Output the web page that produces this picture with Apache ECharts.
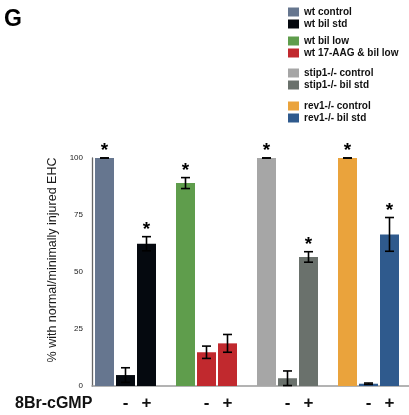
<!DOCTYPE html>
<html>
<head>
<meta charset="utf-8">
<script src="https://cdn.jsdelivr.net/npm/echarts@6/dist/echarts.min.js"></script>
<style>html,body{margin:0;padding:0;background:#fff}#c{width:409px;height:415px}</style>
</head>
<body>
<div id="c"></div>
<script>
// ---- data ----
const categories = ['wt', 'wt bil low', 'stip1-/-', 'rev1-/-'];
const controlValues = [100, 89, 100, 100];
const controlErrors = [0, 2.4, 0, 0];
const controlStars = [true, true, true, true];
const minusValues = [4.8, 14.8, 3.4, 1.0];
const minusErrors = [3.2, 2.7, 3.2, 0.3];
const minusStars = [false, false, false, false];
const plusValues = [62.4, 18.7, 56.6, 66.5];
const plusErrors = [3.1, 3.9, 2.3, 7.4];
const plusStars = [true, false, true, true];
const yTicks = [0, 25, 50, 75, 100];
const legendGroups = [
  ['wt control', 'wt bil std'],
  ['wt bil low', 'wt 17-AAG & bil low'],
  ['stip1-/- control', 'stip1-/- bil std'],
  ['rev1-/- control', 'rev1-/- bil std']
];
const legendColors = {
  'wt control': '#66768f',
  'wt bil std': '#05090f',
  'wt bil low': '#5f9d4c',
  'wt 17-AAG & bil low': '#c1292e',
  'stip1-/- control': '#a6a6a6',
  'stip1-/- bil std': '#6a716c',
  'rev1-/- control': '#eaa33c',
  'rev1-/- bil std': '#2f5a8d'
};
const controlColors = ['#66768f', '#5f9d4c', '#a6a6a6', '#eaa33c'];
const treatedColors = ['#05090f', '#c1292e', '#6a716c', '#2f5a8d'];

// ---- layout / style ----
const FONT = 'Liberation Sans';
const BAR_W = 19, BAR_GAP = 2;
const legendTops = [7, 36, 68, 101];

const chart = echarts.init(document.getElementById('c'), null, {renderer: 'canvas'});

function barSeries(name, values, colors) {
  return {
    name: name, type: 'bar', xAxisIndex: 0, yAxisIndex: 0,
    barWidth: BAR_W, barGap: (BAR_GAP / BAR_W * 100) + '%',
    data: values.map((v, i) => ({value: v, itemStyle: {color: colors[i]}})),
    z: 2
  };
}

function errSeries(pos, values, errors, stars, sign) {
  return {
    type: 'custom', xAxisIndex: 0, yAxisIndex: 0, z: 5, silent: true,
    data: values.map((v, i) => [i, v]),
    encode: {x: 0, y: 1},
    renderItem: function (params, api) {
      const i = params.dataIndex;
      const dx = (pos - 1) * (BAR_W + BAR_GAP);
      const v = values[i], e = errors[i];
      const top = api.coord([i, v + e]);
      const bot = api.coord([i, Math.max(0, v - e)]);
      const base = api.coord([i, 0]);
      const x = top[0] + dx;
      const cap = 4.5;
      const lw = 1.6;
      const children = [
        {type: 'line', shape: {x1: x, y1: top[1], x2: x, y2: bot[1]}, style: {stroke: '#000', lineWidth: lw}},
        {type: 'line', shape: {x1: x - cap, y1: top[1], x2: x + cap, y2: top[1]}, style: {stroke: '#000', lineWidth: lw}},
        {type: 'line', shape: {x1: x - cap, y1: bot[1], x2: x + cap, y2: bot[1]}, style: {stroke: '#000', lineWidth: lw}}
      ];
      if (stars[i]) {
        children.push({type: 'text', x: x, y: top[1] - 7,
          style: {text: '*', fontSize: 19, fontWeight: 'bold', fontFamily: FONT, fill: '#000', align: 'center', verticalAlign: 'middle'}});
      }
      if (sign) {
        children.push({type: 'text', x: x, y: base[1] + 17,
          style: {text: sign, fontSize: 17, fontWeight: 'bold', fontFamily: FONT, fill: '#111', align: 'center', verticalAlign: 'middle'}});
      }
      return {type: 'group', children: children};
    }
  };
}

const legendSeries = Object.keys(legendColors).map(n => ({
  name: n, type: 'scatter', xAxisIndex: 0, yAxisIndex: 0, data: [],
  itemStyle: {color: legendColors[n], opacity: 1}
}));

const option = {
  animation: false,
  textStyle: {fontFamily: FONT},
  title: [
    {text: 'G', left: 4, top: 8, padding: 0, textStyle: {fontSize: 23, fontWeight: 'bold', color: '#000', fontFamily: FONT}},
    {text: '8Br-cGMP', left: 15, top: 396, padding: 0, textStyle: {fontSize: 16, fontWeight: 'bold', color: '#111', fontFamily: FONT}}
  ],
  legend: legendGroups.map((g, k) => ({
    orient: 'vertical', left: 288, top: legendTops[k], padding: 0,
    itemWidth: 11, itemHeight: 9, itemGap: 2, icon: 'rect',
    selectedMode: false, data: g,
    itemStyle: {opacity: 1},
    textStyle: {fontSize: 10, fontWeight: 'bold', color: '#111', fontFamily: FONT}
  })),
  grid: [
    {left: 85, top: 158, width: 333, height: 228},
    {left: 92, top: 158, right: 0, height: 228}
  ],
  xAxis: [
    {type: 'category', gridIndex: 0, data: categories,
     axisLine: {show: false}, axisTick: {show: false}, axisLabel: {show: false}, splitLine: {show: false}},
    {type: 'value', gridIndex: 1, min: 0, max: 1,
     axisLine: {show: true, lineStyle: {color: '#9a9a9a', width: 1.5}},
     axisTick: {show: false}, axisLabel: {show: false}, splitLine: {show: false}}
  ],
  yAxis: [
    {type: 'value', gridIndex: 0, min: yTicks[0], max: yTicks[yTicks.length - 1], interval: yTicks[1] - yTicks[0],
     offset: -7,
     axisLine: {show: true, lineStyle: {color: '#666', width: 1.3}},
     axisTick: {show: false}, splitLine: {show: false},
     axisLabel: {fontSize: 8, color: '#222', margin: 9, fontFamily: FONT},
     name: '% with normal/minimally injured EHC', nameLocation: 'middle', nameGap: 26,
     nameTextStyle: {fontSize: 12.5, color: '#1a1a1a', fontFamily: FONT, padding: [0, 0, 0, 24]}},
    {type: 'value', gridIndex: 1, show: false, min: 0, max: 100}
  ],
  series: [
    barSeries('control', controlValues, controlColors),
    barSeries('minus', minusValues, treatedColors),
    barSeries('plus', plusValues, treatedColors),
    errSeries(0, controlValues, controlErrors, controlStars, ''),
    errSeries(1, minusValues, minusErrors, minusStars, '-'),
    errSeries(2, plusValues, plusErrors, plusStars, '+')
  ].concat(legendSeries)
};
chart.setOption(option);
</script>
</body>
</html>
